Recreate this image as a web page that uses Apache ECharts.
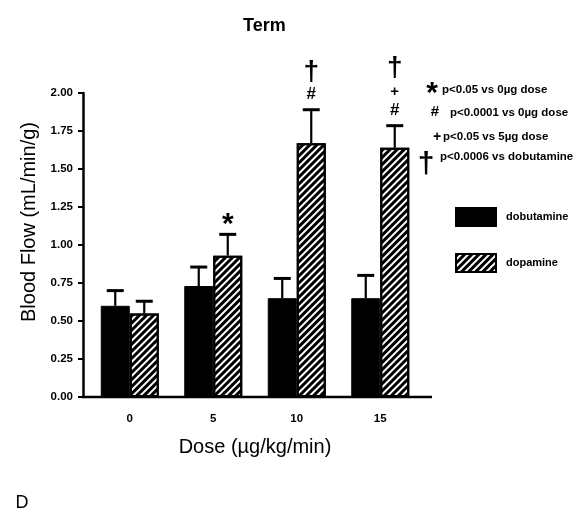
<!DOCTYPE html>
<html>
<head>
<meta charset="utf-8">
<script src="https://cdn.jsdelivr.net/npm/echarts@6/dist/echarts.min.js"></script>
<style>
  html, body { margin: 0; padding: 0; background: #fff; }
  #main { width: 585px; height: 517px; }
</style>
</head>
<body>
<div id="main"></div>
<script>
// data
var doses = ['0', '5', '10', '15'];
var dobutamine = [0.60, 0.73, 0.65, 0.65];
var dobutamineErr = [0.10, 0.125, 0.13, 0.15];
var dopamine = [0.55, 0.93, 1.67, 1.64];
var dopamineErr = [0.08, 0.14, 0.22, 0.145];
// significance marks above dopamine bars, bottom to top
var dopamineMarks = [[], ['*'], ['#', '†'], ['#', '+', '†']];
var yTicks = [0, 0.25, 0.5, 0.75, 1, 1.25, 1.5, 1.75, 2];

var FONT = '"Liberation Sans", Arial, sans-serif';
var BAR_W = 29;

var chart = echarts.init(document.getElementById('main'), null, { renderer: 'canvas' });

function errData(means, errs) {
  return means.map(function (m, i) { return [i, m, m + errs[i]]; });
}

// mark glyph sizes: font, box height
var markStyle = {
  '*': { font: 'bold 30px ' + FONT, h: 20, dy: 6 },
  '#': { font: 'bold 17px ' + FONT, h: 18, dy: 0 },
  '+': { font: 'bold 15px ' + FONT, h: 20, dy: 0 },
  '†': { font: 'bold 28px ' + FONT, h: 30, dy: 2 }
};

function makeErrRender(offset, marks) {
  return function (params, api) {
    var idx = api.value(0);
    var base = api.coord([idx, api.value(1)]);
    var top = api.coord([idx, api.value(2)]);
    var x = base[0] + offset;
    var children = [
      { type: 'line', shape: { x1: x, y1: base[1], x2: x, y2: top[1] },
        style: { stroke: '#000', lineWidth: 2.2 } },
      { type: 'line', shape: { x1: x - 8.5, y1: top[1], x2: x + 8.5, y2: top[1] },
        style: { stroke: '#000', lineWidth: 3 } }
    ];
    if (marks) {
      var cursor = top[1] - 6;
      marks[idx].forEach(function (m) {
        var st = markStyle[m];
        var cy = cursor - st.h / 2;
        children.push({
          type: 'text',
          style: { text: m, x: x, y: cy + st.dy, font: st.font, fill: '#000',
                   align: 'center', verticalAlign: 'middle' }
        });
        cursor -= st.h;
      });
    }
    return { type: 'group', children: children };
  };
}

var keyFont = 'bold 11.5px ' + FONT;

var option = {
  backgroundColor: '#fff',
  animation: false,
  title: {
    text: 'Term',
    left: 238,
    top: 12,
    textStyle: { fontFamily: FONT, fontSize: 18, fontWeight: 'bold', color: '#000' }
  },
  legend: {
    data: ['dobutamine', 'dopamine'],
    orient: 'vertical',
    left: 450,
    top: 202,
    itemWidth: 40,
    itemHeight: 18,
    itemGap: 26,
    icon: 'rect',
    selectedMode: false,
    textStyle: { fontFamily: FONT, fontSize: 11, fontWeight: 'bold', color: '#000', padding: [0, 0, 0, 5] }
  },
  grid: { left: 88, right: 163, top: 93, bottom: 120 },
  xAxis: {
    type: 'category',
    data: doses,
    axisLine: { show: false },
    axisTick: { show: false },
    axisLabel: { margin: 16, fontFamily: FONT, fontSize: 11.5, fontWeight: 'bold', color: '#000' }
  },
  yAxis: {
    type: 'value',
    min: 0,
    max: 2,
    interval: 0.25,
    offset: 5,
    splitLine: { show: false },
    axisLine: { show: true, lineStyle: { color: '#000', width: 2.5 } },
    axisTick: { show: true, length: 5, lineStyle: { color: '#000', width: 2 } },
    axisLabel: {
      margin: 10, fontFamily: FONT, fontSize: 11.5, fontWeight: 'bold', color: '#000',
      formatter: function (v) { return yTicks.indexOf(v) >= 0 ? v.toFixed(2) : ''; }
    }
  },
  series: [
    {
      name: 'dobutamine',
      type: 'bar',
      data: dobutamine,
      barWidth: BAR_W,
      barGap: '0%',
      itemStyle: { color: '#000', borderColor: '#000', borderWidth: 1 }
    },
    {
      name: 'dopamine',
      type: 'bar',
      data: dopamine,
      barWidth: BAR_W,
      barGap: '0%',
      itemStyle: {
        color: '#fff',
        borderColor: '#000',
        borderWidth: 2,
        decal: {
          symbol: 'rect',
          symbolSize: 1,
          color: '#000',
          dashArrayX: [1, 0],
          dashArrayY: [2.5, 2],
          rotation: -Math.PI / 4
        }
      }
    },
    {
      type: 'custom',
      renderItem: makeErrRender(-BAR_W / 2, null),
      data: errData(dobutamine, dobutamineErr),
      clip: false,
      z: 5,
      silent: true
    },
    {
      type: 'custom',
      renderItem: makeErrRender(BAR_W / 2, dopamineMarks),
      data: errData(dopamine, dopamineErr),
      clip: false,
      z: 5,
      silent: true
    }
  ],
  graphic: [
    // x axis baseline (runs slightly beyond the category band, as in the figure)
    { type: 'line', shape: { x1: 82, y1: 397, x2: 432, y2: 397 }, style: { stroke: '#000', lineWidth: 2.5 } },
    { type: 'text', x: 29, y: 222, rotation: Math.PI / 2,
      style: { text: 'Blood Flow (mL/min/g)', font: '20px ' + FONT, fill: '#000',
               align: 'center', verticalAlign: 'middle', textAlign: 'center', textVerticalAlign: 'middle' } },
    { type: 'text', x: 255, y: 447,
      style: { text: 'Dose (\u00b5g/kg/min)', font: '20px ' + FONT, fill: '#000',
               align: 'center', verticalAlign: 'middle', textAlign: 'center', textVerticalAlign: 'middle' } },
    { type: 'text', x: 22, y: 503,
      style: { text: 'D', font: '18px ' + FONT, fill: '#000',
               align: 'center', verticalAlign: 'middle', textAlign: 'center', textVerticalAlign: 'middle' } },
    // significance key
    { type: 'text', x: 432, y: 94, style: { text: '*', font: 'bold 30px ' + FONT, fill: '#000', align: 'center', verticalAlign: 'middle', textAlign: 'center', textVerticalAlign: 'middle' } },
    { type: 'text', x: 442, y: 90, style: { text: 'p<0.05 vs 0\u00b5g dose', font: keyFont, fill: '#000', align: 'left', verticalAlign: 'middle', textAlign: 'left', textVerticalAlign: 'middle' } },
    { type: 'text', x: 435, y: 112, style: { text: '#', font: 'bold 15px ' + FONT, fill: '#000', align: 'center', verticalAlign: 'middle', textAlign: 'center', textVerticalAlign: 'middle' } },
    { type: 'text', x: 450, y: 113, style: { text: 'p<0.0001 vs 0\u00b5g dose', font: keyFont, fill: '#000', align: 'left', verticalAlign: 'middle', textAlign: 'left', textVerticalAlign: 'middle' } },
    { type: 'text', x: 437, y: 137, style: { text: '+', font: 'bold 14px ' + FONT, fill: '#000', align: 'center', verticalAlign: 'middle', textAlign: 'center', textVerticalAlign: 'middle' } },
    { type: 'text', x: 443, y: 137, style: { text: 'p<0.05 vs 5\u00b5g dose', font: keyFont, fill: '#000', align: 'left', verticalAlign: 'middle', textAlign: 'left', textVerticalAlign: 'middle' } },
    { type: 'text', x: 426, y: 165, style: { text: '\u2020', font: 'bold 30px ' + FONT, fill: '#000', align: 'center', verticalAlign: 'middle', textAlign: 'center', textVerticalAlign: 'middle' } },
    { type: 'text', x: 440, y: 157, style: { text: 'p<0.0006 vs dobutamine', font: keyFont, fill: '#000', align: 'left', verticalAlign: 'middle', textAlign: 'left', textVerticalAlign: 'middle' } }
  ]
};

chart.setOption(option);
</script>
</body>
</html>
